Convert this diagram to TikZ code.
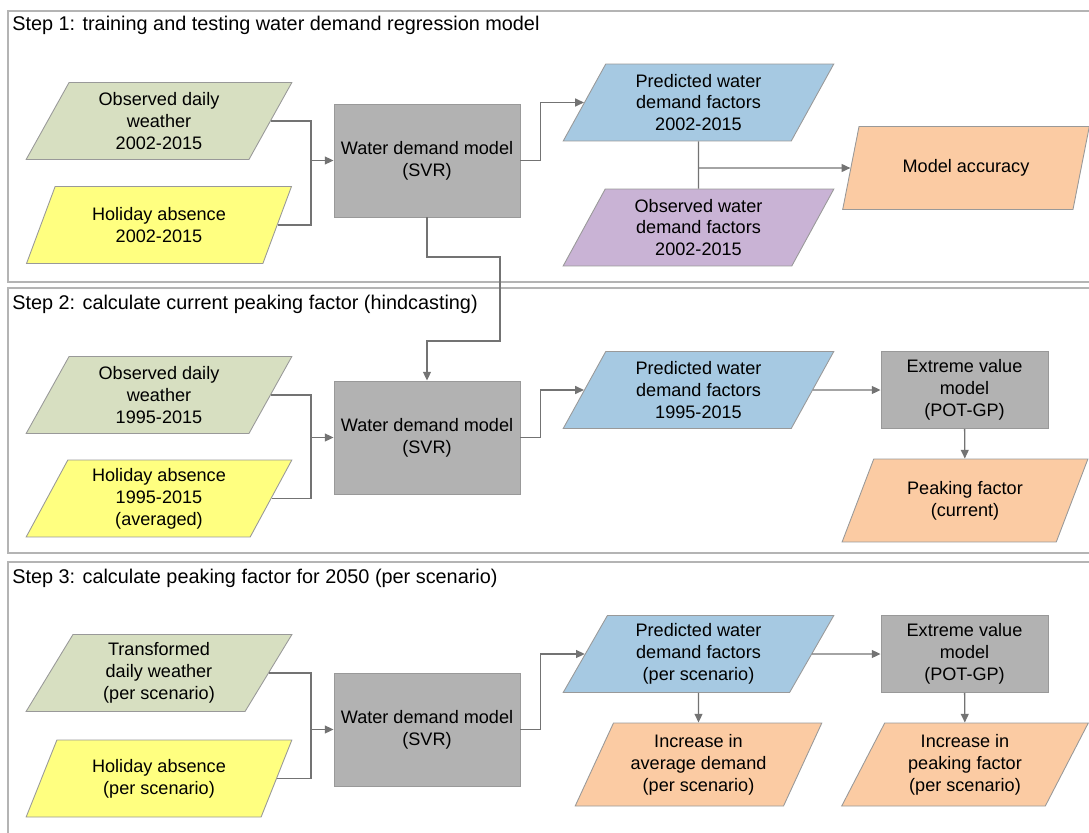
\documentclass[tikz,border=0pt]{standalone}
\usepackage{fontspec}
\setmainfont{Liberation Sans}
\usetikzlibrary{shapes.geometric,arrows.meta}

\definecolor{weathergreen}{HTML}{D7DFC1}
\definecolor{holidayyellow}{HTML}{FFFF80}
\definecolor{modelgray}{HTML}{B2B2B2}
\definecolor{predblue}{HTML}{A6C9E2}
\definecolor{obspurple}{HTML}{C9B3D5}
\definecolor{resultorange}{HTML}{FBCBA3}
\definecolor{linegray}{HTML}{737373}
\definecolor{framegray}{HTML}{B4B4B4}
\definecolor{edgegray}{HTML}{999999}

\begin{document}
\begin{tikzpicture}[x=0.02cm, y=-0.02cm, font=\fontsize{10.3}{12.5}\selectfont,
  data/.style={trapezium, trapezium left angle=64, trapezium right angle=116,
    trapezium stretches=true, draw=edgegray, line width=0.5pt, align=center,
    minimum width=5.32cm, minimum height=1.54cm, inner sep=1pt},
  wide/.style={data, minimum width=5.42cm},
  result/.style={data, fill=resultorange, minimum width=4.94cm, minimum height=1.66cm},
  model/.style={rectangle, draw=edgegray, line width=0.5pt, fill=modelgray, align=center,
    minimum width=3.72cm, minimum height=2.26cm},
  evmodel/.style={model, minimum width=3.34cm, minimum height=1.54cm},
  conn/.style={draw=linegray, line width=0.8pt},
  arr/.style={conn, -{Triangle[length=5pt,width=4.5pt]}},
  frame/.style={draw=framegray, line width=0.8pt},
  steptitle/.style={anchor=west, inner sep=0pt, font=\fontsize{11.3}{13.5}\selectfont}]
  \useasboundingbox (0,0) rectangle (1089,832);

  % step frames
  \draw[frame] (8,11) rectangle (1100,282);
  \draw[frame] (8,288) rectangle (1100,553);
  \draw[frame] (8,562) rectangle (1100,845);
  \node (t1) at (12,25) [steptitle] {Step 1: training and testing water demand regression model};
  \node (t2) at (12,304) [steptitle] {Step 2: calculate current peaking factor (hindcasting)};
  \node (t3) at (12,578) [steptitle] {Step 3: calculate peaking factor for 2050 (per scenario)};

  % step 1
  \node (obs1) at (159,121) [data, fill=weathergreen] {Observed daily\\weather\\2002-2015};
  \node (hol1) at (159,225) [data, fill=holidayyellow] {Holiday absence\\2002-2015};
  \node (svr1) at (427,160.5) [model] {Water demand model\\(SVR)};
  \node (pred1) at (698.5,102.5) [wide, fill=predblue] {Predicted water\\demand factors\\2002-2015};
  \node (obsd1) at (698.5,227.5) [wide, fill=obspurple] {Observed water\\demand factors\\2002-2015};
  \node (acc) at (966,168) [result] {Model accuracy};
  \coordinate (j1) at (311,160.5);
  \draw[conn] (obs1.east) -| (j1);
  \draw[conn] (hol1.east) -| (j1);
  \draw[arr] (j1) -- (svr1);
  \draw[arr] (svr1.east) -- ++(20,0) |- (pred1);
  \draw[conn] (pred1.south) -- (obsd1.north);
  \draw[arr] (pred1.south |- acc.west) -- (acc);

  % step 2
  \node (obs2) at (159,395) [data, fill=weathergreen] {Observed daily\\weather\\1995-2015};
  \node (hol2) at (159,498.5) [data, fill=holidayyellow] {Holiday absence\\1995-2015\\(averaged)};
  \node (svr2) at (427,437.5) [model] {Water demand model\\(SVR)};
  \node (pred2) at (698.5,390) [wide, fill=predblue] {Predicted water\\demand factors\\1995-2015};
  \node (ev2) at (964.5,390) [evmodel] {Extreme value\\model\\(POT-GP)};
  \node (pf2) at (965,500.5) [result] {Peaking factor\\(current)};
  \coordinate (b1) at (500,257);
  \coordinate (b2) at (500,341);
  \draw[arr] (svr1.south) |- (b1) -- (b2) -| (svr2.north);
  \coordinate (j2) at (311,437.5);
  \draw[conn] (obs2.east) -| (j2);
  \draw[conn] (hol2.east) -| (j2);
  \draw[arr] (j2) -- (svr2);
  \draw[arr] (svr2.east) -- ++(20,0) |- (pred2);
  \draw[arr] (pred2.east) -- (ev2.west);
  \draw[arr] (ev2) -- (pf2);

  % step 3
  \node (obs3) at (159,673) [data, fill=weathergreen] {Transformed\\daily weather\\(per scenario)};
  \node (hol3) at (159,778.5) [data, fill=holidayyellow] {Holiday absence\\(per scenario)};
  \node (svr3) at (427,729.5) [model] {Water demand model\\(SVR)};
  \node (pred3) at (698.5,654) [wide, fill=predblue] {Predicted water\\demand factors\\(per scenario)};
  \node (ev3) at (964.5,654) [evmodel] {Extreme value\\model\\(POT-GP)};
  \node (inc1) at (698.5,764.5) [result] {Increase in\\average demand\\(per scenario)};
  \node (inc2) at (965,764.5) [result] {Increase in\\peaking factor\\(per scenario)};
  \coordinate (j3) at (311,729.5);
  \draw[conn] (obs3.east) -| (j3);
  \draw[conn] (hol3.east) -| (j3);
  \draw[arr] (j3) -- (svr3);
  \draw[arr] (svr3.east) -- ++(20,0) |- (pred3);
  \draw[arr] (pred3.east) -- (ev3.west);
  \draw[arr] (pred3) -- (inc1);
  \draw[arr] (ev3) -- (inc2);
\end{tikzpicture}
\end{document}
